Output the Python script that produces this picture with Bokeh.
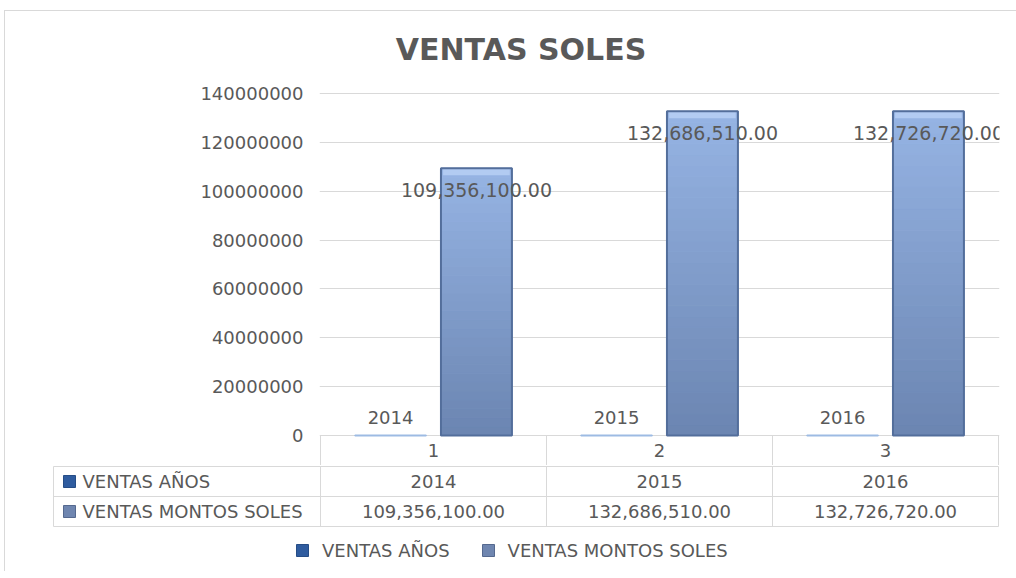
import numpy as np
from bokeh.plotting import figure
from bokeh.models import (Range1d, FixedTicker, PrintfTickFormatter, ColumnDataSource,
                          LabelSet, Legend, LegendItem, Div)
from bokeh.layouts import column, row
from bokeh.embed import file_html
from bokeh.resources import INLINE
from bokeh.core.properties import value

# ---------------- data ----------------
title_text = "VENTAS SOLES"
categories = ["1", "2", "3"]
series_names = ["VENTAS AÑOS", "VENTAS MONTOS SOLES"]
ventas_anios = [2014, 2015, 2016]
ventas_montos = [109356100.00, 132686510.00, 132726720.00]
y_ticks = [0, 20000000, 40000000, 60000000, 80000000, 100000000, 120000000, 140000000]

anios_labels = [str(v) for v in ventas_anios]
montos_labels = [f"{v:,.2f}" for v in ventas_montos]

# ---------------- style / layout ----------------
FONT = "DejaVu Sans"
TXT = "#595959"
GRID = "#d9d9d9"
COL_PX = 226
CHART_PX = 342
HEADER_PX = 30
ROW_PX = 30
LEFT_COL_PX = 267
LEGEND_PX = 44
PAD = 1
Y_MAX = max(y_ticks)
upp = Y_MAX / CHART_PX  # data units per pixel
n = len(categories)
xc = np.arange(n) + 0.5
x1 = xc - 0.19
x2 = xc + 0.19
bar_w = 0.314

# ---------------- title ----------------
title_div = Div(
    text=f'<div style="width:1006px;text-align:center;padding-left:16px;box-sizing:border-box;'
         f'font:bold 30px \'DejaVu Sans\';line-height:36px;padding-top:16px;color:{TXT}">{title_text}</div>',
    width=1006, height=50)

# ---------------- main chart ----------------
p1 = figure(frame_width=n * COL_PX + 2 * PAD, frame_height=CHART_PX + HEADER_PX + PAD,
            x_range=Range1d(-PAD / COL_PX, n + PAD / COL_PX),
            y_range=Range1d(-HEADER_PX * upp, Y_MAX + PAD * upp),
            x_axis_location=None,
            min_border_left=314, min_border_right=12, min_border_top=21, min_border_bottom=0,
            output_backend="svg", toolbar_location=None)
p1.outline_line_color = None
p1.background_fill_color = "white"
p1.border_fill_color = "white"
p1.xgrid.visible = False
p1.yaxis.ticker = FixedTicker(ticks=y_ticks)
p1.yaxis.formatter = PrintfTickFormatter(format="%d")
p1.yaxis.axis_line_color = None
p1.yaxis.major_tick_line_color = None
p1.yaxis.minor_tick_line_color = None
p1.yaxis.major_label_text_font = FONT
p1.yaxis.major_label_text_font_size = "18px"
p1.yaxis.major_label_text_color = TXT
p1.yaxis.major_label_standoff = 10
p1.ygrid.ticker = FixedTicker(ticks=y_ticks)
p1.ygrid.grid_line_color = GRID
p1.ygrid.grid_line_width = 1

# gradient bars for VENTAS MONTOS SOLES
N_SL = 30
top_c = np.array([0x96, 0xb4, 0xe4])
bot_c = np.array([0x6b, 0x85, 0xb1])
sx, sb, st, sc = [], [], [], []
for i, v in enumerate(ventas_montos):
    for k in range(N_SL):
        f = (k + 0.5) / N_SL
        c = bot_c + (top_c - bot_c) * f
        sx.append(x2[i]); sb.append(v * k / N_SL); st.append(v * (k + 1) / N_SL)
        sc.append("#%02x%02x%02x" % tuple(int(round(t)) for t in c))
p1.vbar(x=sx, bottom=sb, top=st, width=bar_w, fill_color=sc, line_color=sc, line_width=1)
cap = 7 * upp
p1.vbar(x=x2, bottom=[v - cap for v in ventas_montos], top=ventas_montos, width=bar_w * 0.94,
        fill_color="#b2cbf2", line_color=None)
p1.vbar(x=x2, top=ventas_montos, width=bar_w, fill_color=None, line_color="#536e9b", line_width=2)

# tiny bars for VENTAS AÑOS
p1.vbar(x=x1, top=ventas_anios, width=bar_w, fill_color="#9dbbe3", line_color="#9dbbe3", line_width=2)

# data labels
src_m = ColumnDataSource(dict(x=x2, y=ventas_montos, t=montos_labels))
src_a = ColumnDataSource(dict(x=x1, y=ventas_anios, t=anios_labels))
p1.add_layout(LabelSet(x="x", y="y", text="t", source=src_m, y_offset=-22,
                       text_align="center", text_baseline="middle", text_font=value(FONT),
                       text_font_size="19px", text_color=TXT))
p1.add_layout(LabelSet(x="x", y="y", text="t", source=src_a, y_offset=18,
                       text_align="center", text_baseline="middle", text_font=value(FONT),
                       text_font_size="18px", text_color=TXT))

# table header row (category labels)
p1.text(x=xc, y=[-HEADER_PX / 2 * upp] * n, text=categories, text_align="center",
        text_baseline="middle", text_font=value(FONT), text_font_size="18px", text_color=TXT)
xb = list(range(n + 1))
p1.segment(x0=xb, y0=[-HEADER_PX * upp] * (n + 1), x1=xb, y1=[0] * (n + 1),
           line_color=GRID, line_width=1)

# ---------------- data table + legend ----------------
x_left = -LEFT_COL_PX / COL_PX
p2 = figure(frame_width=LEFT_COL_PX + n * COL_PX + 2 * PAD,
            frame_height=2 * ROW_PX + 2 * PAD + LEGEND_PX,
            x_range=Range1d(x_left - PAD / COL_PX, n + PAD / COL_PX),
            y_range=Range1d(2 + (PAD + LEGEND_PX) / ROW_PX, -PAD / ROW_PX),
            x_axis_location=None, y_axis_location=None,
            min_border_left=47, min_border_right=12, min_border_top=0, min_border_bottom=0,
            output_backend="svg", toolbar_location=None)
p2.outline_line_color = None
p2.grid.visible = False

p2.segment(x0=[x_left] * 3, y0=[0, 1, 2], x1=[n] * 3, y1=[0, 1, 2], line_color=GRID, line_width=1)
vx = [x_left] + list(range(n + 1))
p2.segment(x0=vx, y0=[0] * len(vx), x1=vx, y1=[2] * len(vx), line_color=GRID, line_width=1)

sq1 = p2.scatter(x=[x_left + 16 / COL_PX], y=[0.5], marker="square", size=12,
                 fill_color="#2f5c9f", line_color="#264d86")
sq2 = p2.scatter(x=[x_left + 16 / COL_PX], y=[1.5], marker="square", size=12,
                 fill_color="#6f86b0", line_color="#55698f")
p2.text(x=[x_left + 29 / COL_PX] * 2, y=[0.5, 1.5], text=series_names, text_align="left",
        text_baseline="middle", text_font=value(FONT), text_font_size="18px", text_color=TXT)
p2.text(x=xc, y=[0.5] * n, text=anios_labels, text_align="center", text_baseline="middle",
        text_font=value(FONT), text_font_size="18px", text_color=TXT)
p2.text(x=xc, y=[1.5] * n, text=montos_labels, text_align="center", text_baseline="middle",
        text_font=value(FONT), text_font_size="18px", text_color=TXT)

legend = Legend(items=[LegendItem(label=series_names[0], renderers=[sq1]),
                       LegendItem(label=series_names[1], renderers=[sq2])],
                orientation="horizontal", location=(235, 6),
                glyph_width=30, glyph_height=30, label_standoff=5, spacing=23,
                padding=0, margin=0, border_line_color=None, background_fill_alpha=0,
                label_text_font=FONT, label_text_font_size="18px", label_text_color=TXT)
p2.add_layout(legend)

layout = column(title_div, p1, row(p2),
                styles={"border-left": "1px solid #d9d9d9", "border-top": "1px solid #d9d9d9",
                        "margin-left": "4px", "margin-top": "10px"})
open("out.html", "w").write(file_html(layout, INLINE))
